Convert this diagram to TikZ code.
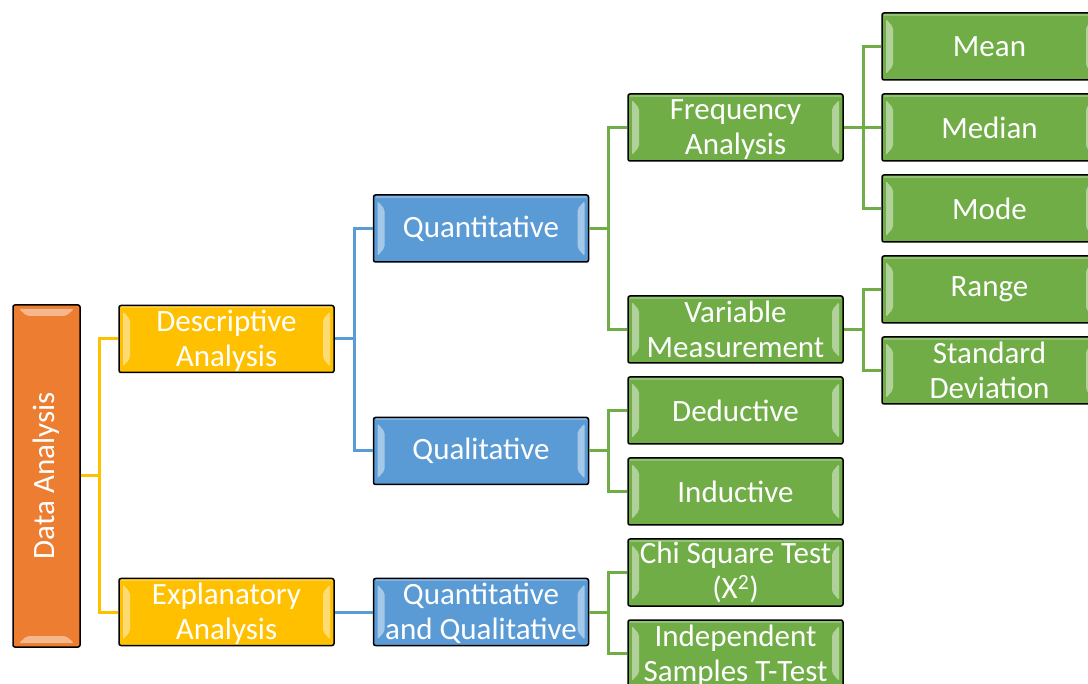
\documentclass[tikz,border=0pt]{standalone}
\usepackage{fontspec}
\setmainfont{Carlito}
\usetikzlibrary{calc}
\definecolor{orangeC}{HTML}{ED7D31}
\definecolor{yellowC}{HTML}{FFC000}
\definecolor{blueC}{HTML}{5B9BD5}
\definecolor{greenC}{HTML}{70AD47}
\newcommand{\boxfont}{\fontsize{31}{35}\selectfont}
\tikzset{
  box/.style={draw=black, line width=1.5pt, rounded corners=2pt,
    minimum width=215pt, minimum height=67pt, inner sep=0pt,
    align=center, text=white, font=\boxfont},
  twoline/.style={text depth=1.5pt},
  bevh/.style={path picture={
    \fill[white,opacity=0.45]
      ([xshift=4pt,yshift=-6pt]path picture bounding box.north west) --
      ([xshift=11pt,yshift=-14pt]path picture bounding box.north west) --
      ([xshift=11pt,yshift=14pt]path picture bounding box.south west) --
      ([xshift=4pt,yshift=6pt]path picture bounding box.south west) -- cycle;
    \fill[white,opacity=0.45]
      ([xshift=-4pt,yshift=-6pt]path picture bounding box.north east) --
      ([xshift=-11pt,yshift=-14pt]path picture bounding box.north east) --
      ([xshift=-11pt,yshift=14pt]path picture bounding box.south east) --
      ([xshift=-4pt,yshift=6pt]path picture bounding box.south east) -- cycle;
    \draw[white,opacity=0.25,line width=2pt]
      ([xshift=2pt,yshift=-2pt]path picture bounding box.north west) --
      ([xshift=-2pt,yshift=-2pt]path picture bounding box.north east);
  }},
  bevv/.style={path picture={
    \fill[white,opacity=0.45]
      ([xshift=6pt,yshift=-4pt]path picture bounding box.north west) --
      ([xshift=14pt,yshift=-11pt]path picture bounding box.north west) --
      ([xshift=-14pt,yshift=-11pt]path picture bounding box.north east) --
      ([xshift=-6pt,yshift=-4pt]path picture bounding box.north east) -- cycle;
    \fill[white,opacity=0.45]
      ([xshift=6pt,yshift=4pt]path picture bounding box.south west) --
      ([xshift=14pt,yshift=11pt]path picture bounding box.south west) --
      ([xshift=-14pt,yshift=11pt]path picture bounding box.south east) --
      ([xshift=-6pt,yshift=4pt]path picture bounding box.south east) -- cycle;
  }},
  orangebox/.style={box, bevv, fill=orangeC, minimum width=67pt, minimum height=342pt},
  yellowbox/.style={box, bevh, fill=yellowC},
  bluebox/.style={box, bevh, fill=blueC},
  greenbox/.style={box, bevh, fill=greenC},
  conn/.style={line width=3pt},
}
\begin{document}
\begin{tikzpicture}[x=1pt,y=-1pt]
\useasboundingbox (0,0) rectangle (1088,684);
\clip (0,0) rectangle (1088,684);
\fill[white] (0,0) rectangle (1088,684);

% junction points of the connectors
\coordinate (c1) at (99,476);
\coordinate (c2) at (354,339);
\coordinate (c3) at (608,228.5);
\coordinate (c4) at (608,451);
\coordinate (c5) at (608,612);
\coordinate (c6) at (863,127.5);
\coordinate (c7) at (863,329.5);

% nodes
\node[orangebox] (da) at (46.5,476) {\rotatebox{90}{Data Analysis}};
\node[yellowbox, twoline] (desc) at (226.5,339) {Descriptive\\Analysis};
\node[yellowbox, twoline] (expl) at (226.5,612) {Explanatory\\Analysis};
\node[bluebox] (quant) at (481,228.5) {Quantitative};
\node[bluebox] (qual) at (481,451) {Qualitative};
\node[bluebox, twoline] (qq) at (481,612) {Quantitative\\and Qualitative};
\node[greenbox, twoline] (freq) at (735.5,127.5) {Frequency\\Analysis};
\node[greenbox] (var) at (735.5,329.5) {Variable\\Measurement};
\node[greenbox] (ded) at (735.5,410.5) {Deductive};
\node[greenbox] (ind) at (735.5,491.5) {Inductive};
\node[greenbox] (chi) at (735.5,572.5) {Chi Square Test\\(X\textsuperscript{2})};
\node[greenbox, twoline] (indep) at (735.5,653.5) {Independent\\Samples T-Test};
\node[greenbox] (mean) at (989.5,46.5) {Mean};
\node[greenbox] (median) at (989.5,127.5) {Median};
\node[greenbox] (mode) at (989.5,208.5) {Mode};
\node[greenbox] (range) at (989.5,289.5) {Range};
\node[greenbox] (std) at (989.5,370.5) {Standard\\Deviation};

\draw[conn, yellowC] (da.east) -- (c1) |- (desc.west);
\draw[conn, yellowC] (c1) |- (expl.west);
\draw[conn, blueC] (desc.east) -- (c2) |- (quant.west);
\draw[conn, blueC] (c2) |- (qual.west);
\draw[conn, blueC] (expl.east) -- (qq.west);
\draw[conn, greenC] (quant.east) -- (c3) |- (freq.west);
\draw[conn, greenC] (c3) |- (var.west);
\draw[conn, greenC] (qual.east) -- (c4) |- (ded.west);
\draw[conn, greenC] (c4) |- (ind.west);
\draw[conn, greenC] (qq.east) -- (c5) |- (chi.west);
\draw[conn, greenC] (c5) |- (indep.west);
\draw[conn, greenC] (freq.east) -- (c6) |- (mean.west);
\draw[conn, greenC] (c6) |- (median.west);
\draw[conn, greenC] (c6) |- (mode.west);
\draw[conn, greenC] (var.east) -- (c7) |- (range.west);
\draw[conn, greenC] (c7) |- (std.west);
\end{tikzpicture}
\end{document}
